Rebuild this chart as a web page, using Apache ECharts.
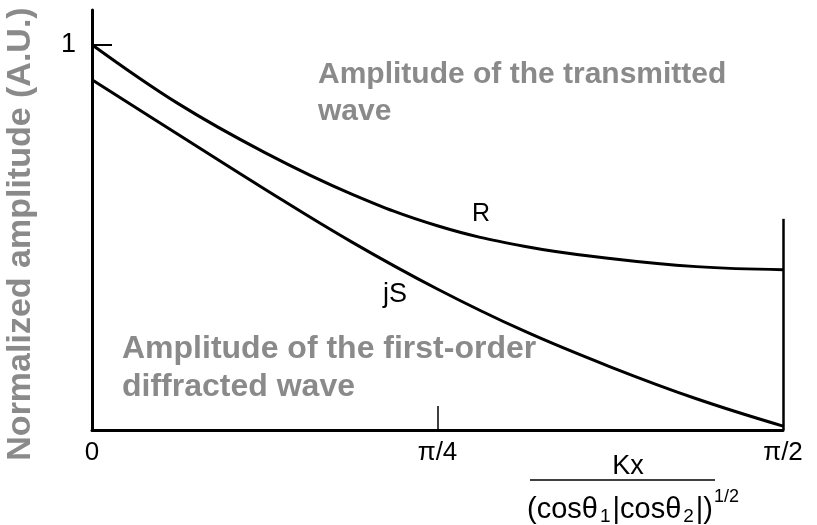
<!DOCTYPE html>
<html>
<head>
<meta charset="utf-8">
<script src="https://cdn.jsdelivr.net/npm/echarts@6/dist/echarts.min.js"></script>
<style>
  html, body { margin: 0; padding: 0; background: #ffffff; }
  #chart { width: 817px; height: 525px; }
</style>
</head>
<body>
<div id="chart"></div>
<script>
// Normalized position Kx / (cosθ1|cosθ2|)^(1/2), in radians (0 … π/2)
const positions = [0, 0.196, 0.393, 0.589, 0.785, 0.982, 1.178, 1.374, 1.571];
// Amplitude of the transmitted wave R
const transmitted = [1.0, 0.847, 0.72, 0.613, 0.53, 0.477, 0.445, 0.424, 0.416];
// Amplitude of the first-order diffracted wave jS
const diffracted = [0.909, 0.767, 0.625, 0.489, 0.366, 0.257, 0.164, 0.081, 0.01];

// Axis ticks and their labels
const xTickValues = [0, Math.PI / 4, Math.PI / 2];
const xTickLabels = ['0', 'π/4', 'π/2'];
const yTickValues = [1];
const yTickLabels = ['1'];
// Height of the right-hand boundary line at π/2
const boundaryTop = 0.548;

const pairs = (xs, ys) => xs.map((x, i) => [x, ys[i]]);

const tickFont = 'Liberation Sans, Arial, sans-serif';
const gray = '#8a8a8a';

const chart = echarts.init(document.getElementById('chart'), null, { renderer: 'canvas' });

chart.setOption({
  animation: false,
  backgroundColor: '#ffffff',
  grid: { left: 92, right: 34, top: 10, bottom: 95, containLabel: false },
  xAxis: {
    type: 'value',
    min: 0,
    max: Math.PI / 2,
    splitLine: { show: false },
    axisLine: { show: true, onZero: false, lineStyle: { color: '#000', width: 3 } },
    axisTick: {
      show: true, inside: true, length: 24,
      customValues: [Math.PI / 4],
      lineStyle: { color: '#000', width: 1.5 }
    },
    axisLabel: {
      customValues: xTickValues,
      margin: 10,
      color: '#000',
      fontFamily: tickFont,
      fontSize: 26,
      formatter: (v) => {
        const i = xTickValues.findIndex(t => Math.abs(t - v) < 1e-6);
        return i >= 0 ? xTickLabels[i] : '';
      }
    }
  },
  yAxis: {
    type: 'value',
    min: 0,
    max: 1.09,
    splitLine: { show: false },
    axisLine: { show: true, onZero: false, lineStyle: { color: '#000', width: 3 } },
    axisTick: {
      show: true, inside: true, length: 20,
      customValues: yTickValues,
      lineStyle: { color: '#000', width: 2 }
    },
    axisLabel: {
      customValues: yTickValues,
      margin: 16,
      color: '#000',
      fontFamily: tickFont,
      fontSize: 27,
      formatter: (v) => {
        const i = yTickValues.findIndex(t => Math.abs(t - v) < 1e-6);
        return i >= 0 ? yTickLabels[i] : '';
      }
    }
  },
  series: [
    {
      name: 'R',
      type: 'line',
      smooth: 0.4,
      symbol: 'none',
      data: pairs(positions, transmitted),
      lineStyle: { color: '#000', width: 3 },
      markLine: {
        silent: true,
        symbol: ['none', 'none'],
        label: { show: false },
        lineStyle: { color: '#000', width: 2.5, type: 'solid' },
        data: [[{ coord: [Math.PI / 2, 0] }, { coord: [Math.PI / 2, boundaryTop] }]]
      }
    },
    {
      name: 'jS',
      type: 'line',
      smooth: 0.4,
      symbol: 'none',
      data: pairs(positions, diffracted),
      lineStyle: { color: '#000', width: 3 }
    }
  ],
  graphic: [
    // vertical axis title
    {
      type: 'text',
      x: 21, y: 234,
      rotation: Math.PI / 2,
      style: {
        text: 'Normalized amplitude (A.U.)',
        fill: gray,
        font: 'bold 34px Liberation Sans, Arial, sans-serif',
        align: 'center',
        verticalAlign: 'middle'
      }
    },
    // curve annotations
    {
      type: 'text',
      x: 318, y: 56,
      style: {
        text: 'Amplitude of the transmitted\nwave',
        fill: gray,
        font: 'bold 30px Liberation Sans, Arial, sans-serif',
        lineHeight: 37,
        align: 'left',
        verticalAlign: 'top'
      }
    },
    {
      type: 'text',
      x: 122, y: 330,
      style: {
        text: 'Amplitude of the first-order\ndiffracted wave',
        fill: gray,
        font: 'bold 32px Liberation Sans, Arial, sans-serif',
        lineHeight: 38,
        align: 'left',
        verticalAlign: 'top'
      }
    },
    // curve names
    {
      type: 'text',
      x: 472, y: 214,
      style: {
        text: 'R', fill: '#000',
        font: '25px Liberation Sans, Arial, sans-serif',
        align: 'left', verticalAlign: 'middle'
      }
    },
    {
      type: 'text',
      x: 383, y: 295,
      style: {
        text: 'jS', fill: '#000',
        font: '27px Liberation Sans, Arial, sans-serif',
        align: 'left', verticalAlign: 'middle'
      }
    },
    // horizontal axis title as a fraction
    {
      type: 'text',
      x: 628, y: 467,
      style: {
        text: 'Kx', fill: '#000',
        font: '27px Liberation Sans, Arial, sans-serif',
        align: 'center', verticalAlign: 'middle'
      }
    },
    {
      type: 'line',
      shape: { x1: 530, y1: 480, x2: 715, y2: 480 },
      style: { stroke: '#000', lineWidth: 1.5 }
    },
    {
      type: 'text',
      x: 527, y: 510,
      style: {
        text: '{d|(cosθ}{s|1}{d||cosθ}{s|2}{d||)}',
        fill: '#000',
        align: 'left',
        verticalAlign: 'middle',
        rich: {
          d: { fontFamily: tickFont, fontSize: 29, lineHeight: 22, fill: '#000' },
          s: { fontFamily: tickFont, fontSize: 19, lineHeight: 19, padding: [14, 2, 0, 2], fill: '#000' }
        }
      }
    },
    {
      type: 'text',
      x: 714, y: 497,
      style: {
        text: '1/2', fill: '#000',
        font: '18px Liberation Sans, Arial, sans-serif',
        align: 'left', verticalAlign: 'middle'
      }
    }
  ]
});
</script>
</body>
</html>
